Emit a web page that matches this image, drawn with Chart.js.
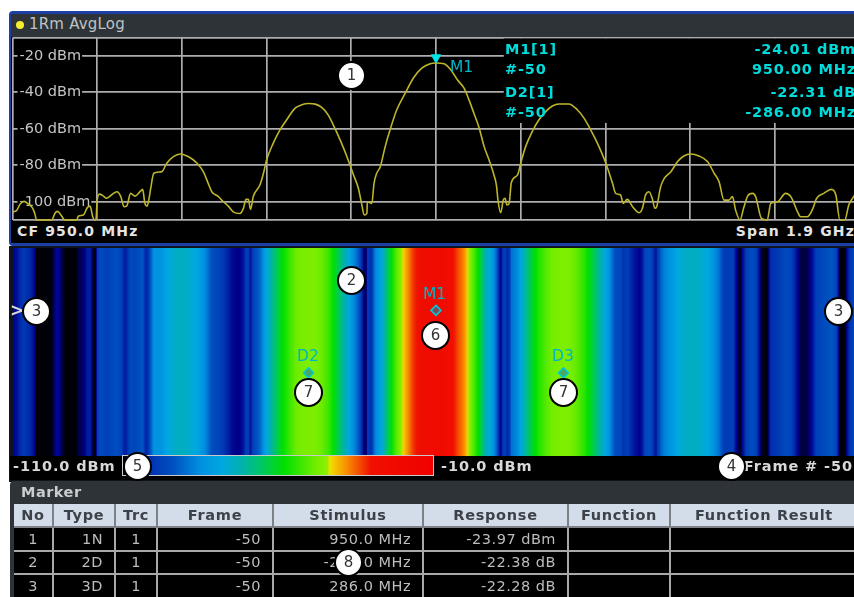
<!DOCTYPE html>
<html>
<head>
<meta charset="utf-8">
<script src="https://cdn.jsdelivr.net/npm/chart.js@4"></script>
<style>
html,body{margin:0;padding:0;background:#fff;width:854px;height:597px;overflow:hidden;}
#stage{position:absolute;left:0;top:0;width:854px;height:597px;overflow:hidden;background:#fff;
  font-family:"DejaVu Sans",sans-serif;filter:blur(0.45px);}
.box{position:absolute;}
.txt{position:absolute;white-space:nowrap;line-height:1;}
canvas{position:absolute;display:block;}
.num{position:absolute;width:25px;height:25px;border-radius:50%;background:#fff;border:2px solid #000;
  color:#333;font-size:15px;line-height:25px;text-align:center;}
.mk{color:#00dcdc;font-size:14.5px;font-weight:bold;letter-spacing:.8px;}
.wl{color:#00b4c8;font-size:15.5px;}
.low{font-size:14.5px;font-weight:bold;color:#d8d8d8;letter-spacing:.9px;}
#tbl{position:absolute;left:14px;top:504px;width:844px;border-collapse:collapse;table-layout:fixed;
  font-size:14.5px;color:#bdbdbd;letter-spacing:.5px;}
#tbl th{background:#d3dde9;color:#3c4248;font-weight:bold;height:22px;padding:0;border:1px solid #7d8084;border-width:0 2px 2px 0;letter-spacing:.7px;}
#tbl td{height:21.5px;padding:0 11px 0 0;text-align:right;background:#000;border:1px solid #a8a8a8;border-width:0 2px 2px 0;}
</style>
</head>
<body>
<div id="stage">
  <!-- top panel -->
  <div class="box" style="left:9px;top:11px;width:850px;height:235px;background:#1c3fa6;border-radius:4px 0 0 4px"></div>
  <div class="box" style="left:11px;top:14px;width:850px;height:23px;background:#2e3337"></div>
  <div class="box" style="left:11px;top:37px;width:850px;height:206px;background:#000"></div>
  <div class="box" style="left:16px;top:21px;width:8px;height:8px;border-radius:50%;background:#f5ee30"></div>
  <div class="txt" style="left:29px;top:17px;font-size:15px;color:#bfc3c6;letter-spacing:.2px">1Rm AvgLog</div>
  <canvas id="traceChart"></canvas>
  <div class="txt" style="left:17px;top:224px;font-size:14px;font-weight:bold;color:#e4e4e4;letter-spacing:1.15px">CF 950.0 MHz</div>
  <div class="txt" style="right:-1px;top:224px;font-size:14px;font-weight:bold;color:#e4e4e4;letter-spacing:1.15px">Span 1.9 GHz</div>
  <div class="txt mk" style="left:505px;top:42px">M1[1]</div>
  <div class="txt mk" style="left:505px;top:62px">#-50</div>
  <div class="txt mk" style="left:505px;top:85px">D2[1]</div>
  <div class="txt mk" style="left:505px;top:105px">#-50</div>
  <div class="txt mk" style="right:-2px;top:42px">-24.01 dBm</div>
  <div class="txt mk" style="right:-2px;top:62px">950.00 MHz</div>
  <div class="txt mk" style="right:-2px;top:85px">-22.31 dB</div>
  <div class="txt mk" style="right:-2px;top:105px">-286.00 MHz</div>
  <div class="txt wl" style="left:450px;top:60px">M1</div>

  <!-- spectrogram panel -->
  <div class="box" style="left:9px;top:246px;width:850px;height:236px;background:#10131a"></div>
  <canvas id="waterfallChart"></canvas>
  <div class="txt wl" style="left:423px;top:287px">M1</div>
  <div class="txt wl" style="left:297px;top:349px">D2</div>
  <div class="txt wl" style="left:552px;top:349px">D3</div>
  <div class="box" style="left:10px;top:456px;width:850px;height:24px;background:#000"></div>
  <div class="txt low" style="left:13px;top:459px">-110.0 dBm</div>
  <div class="box" id="colorBar" style="left:122px;top:455px;width:310px;height:19px;border:1px solid #c9c9c9"></div>
  <div class="txt low" style="left:441px;top:459px">-10.0 dBm</div>
  <div class="txt low" style="right:1px;top:459px">Frame # -50</div>
  <div class="txt" style="left:10px;top:302px;font-size:17px;font-weight:bold;color:#d8d8d8">&gt;</div>

  <!-- marker table panel -->
  <div class="box" style="left:10px;top:481px;width:850px;height:116px;background:#2e3337;border-radius:4px 0 0 0"></div>
  <div class="txt" style="left:21px;top:485px;font-size:14.5px;font-weight:bold;color:#c9cdd0;letter-spacing:.5px">Marker</div>
  <table id="tbl"><colgroup id="cols"></colgroup><thead><tr id="hdr"></tr></thead><tbody id="rows"></tbody></table>

  <div id="nums"></div>
</div>

<script>
// spectrum trace, frequency in MHz and level in dBm
var traceFreq = [0,9,17,26,36,44,50,54,88,95,101,107,118,144,148,159,168,174,180,184,187,190,195,204,211,222,234,243,250,256,265,275,286,292,297,302,307,310,317,335,346,361,376,395,413,428,439,447,462,473,484,495,510,518,524,529,534,540,555,563,570,585,600,615,634,649,664,679,693,708,723,738,753,765,776,783,789,795,796,806,811,817,825,836,847,862,881,899,918,937,950,968,983,998,1013,1024,1035,1047,1058,1069,1080,1086,1089,1095,1101,1105,1109,1114,1119,1133,1140,1151,1166,1181,1196,1211,1226,1248,1267,1282,1297,1312,1331,1346,1353,1364,1370,1379,1391,1406,1413,1420,1428,1435,1441,1445,1454,1462,1477,1492,1506,1521,1540,1559,1574,1585,1596,1607,1615,1622,1632,1640,1649,1660,1667,1680,1693,1701,1716,1734,1746,1761,1768,1783,1794,1804,1820,1837,1847,1856,1867,1876,1887,1900];
var traceLevel = [-105.6,-104.9,-101.3,-99.8,-101.3,-103.1,-106.4,-110,-110,-106.4,-105.3,-106.7,-110,-110,-107.8,-107.3,-103.1,-102.4,-108.2,-110,-110,-99.1,-95.8,-96.9,-98.1,-96.3,-94.5,-97.2,-102.7,-102.4,-95.4,-96.9,-94.5,-93.2,-100.9,-102.4,-97.2,-92.7,-84.4,-83.5,-78.9,-75.3,-73.8,-75.3,-78.6,-83.5,-89.9,-94.5,-97.2,-100,-102.4,-105.5,-106.4,-103.6,-98.7,-98.7,-104.2,-97.2,-90.8,-84.4,-77.1,-67.9,-60.6,-55.1,-48.7,-46.9,-46.2,-46.5,-48.2,-52.4,-59.7,-67.9,-77.1,-85.3,-92.7,-100.9,-107.3,-106.4,-100,-100.9,-89.9,-84.4,-80.8,-69.8,-60.6,-49.6,-40.5,-32.3,-26.8,-24.4,-24.01,-24.4,-27.7,-33.2,-37.8,-44.2,-51.5,-59.7,-69.8,-77.1,-85.3,-91.7,-99.1,-106,-99.1,-98.1,-101.8,-100.9,-89.5,-85.3,-78.9,-69.8,-61.5,-55.1,-50.6,-47.5,-46.4,-46.4,-49.6,-54.2,-60.6,-67.9,-78.9,-89.9,-95.4,-96.3,-100.9,-98.7,-102.7,-106,-103.6,-96.3,-94.5,-98.1,-103.6,-102.7,-91.7,-87.2,-83.5,-78,-74.9,-73.8,-74.9,-78,-84.4,-89,-99.1,-99.1,-97.2,-104.5,-110,-103.6,-96.9,-95.4,-97.2,-109.1,-110,-100.9,-100,-95.4,-97.2,-105.5,-108.2,-108.2,-104.5,-98.1,-95.4,-93.2,-96.3,-110,-110,-101.8,-97.2,-92];

// axes
var freqTicks = [0,190,380,570,760,950,1140,1330,1520,1710,1900];
var levelTicks = [-110,-100,-80,-60,-40,-20,-10];
var levelLabels = ['','-100 dBm','-80 dBm','-60 dBm','-40 dBm','-20 dBm',''];

// markers
var m1Freq = [950];
var m1Tip = [-21];
var wfMarkerFreq = [950,664,1236];
var wfMarkerFrame = [-30,-60,-60];

// colour scale of the spectrogram (dBm -> colour)
var scaleLevels = [-110,-106,-100,-94,-85,-78,-72,-65,-58,-48,-44,-43.4,-38,-30,-10];
var scaleColors = ['#000008','#00008c','#0038b4','#0050c0','#0090e0','#00a8e0','#00b0b0','#00c860','#00e000','#70ec00','#90f000','#f0e000','#f89000','#f01000','#f00000'];

// table
var tableHead = ['No','Type','Trc','Frame','Stimulus','Response','Function','Function Result'];
var tableWidths = [39,62,42,116,150,145,102,188];
var tableRows = [
  ['1','1N','1','-50','950.0 MHz','-23.97 dBm','',''],
  ['2','2D','1','-50','-286.0 MHz','-22.38 dB','',''],
  ['3','3D','1','-50','286.0 MHz','-22.28 dB','','']
];

// call-out numbers: label, centre x, centre y
var callNo = ['1','2','3','3','4','5','6','7','7','8'];
var callX = [351,351,36,838,731,137,435,308,563,348];
var callY = [75,280,311,311,466,466,335,392,392,562];

function hexRgb(h){
    return [parseInt(h.substr(1,2),16),parseInt(h.substr(3,2),16),parseInt(h.substr(5,2),16)];
}

function LevelColour(v)
{
    if (v <= scaleLevels[0]) return scaleColors[0];
    for (var i = 1; i < scaleLevels.length; i++) {
        if (v <= scaleLevels[i]) {
            var t = (v - scaleLevels[i-1]) / (scaleLevels[i] - scaleLevels[i-1]);
            var a = hexRgb(scaleColors[i-1]), b = hexRgb(scaleColors[i]);
            return 'rgb(' + Math.round(a[0]+(b[0]-a[0])*t) + ',' + Math.round(a[1]+(b[1]-a[1])*t) + ',' + Math.round(a[2]+(b[2]-a[2])*t) + ')';
        }
    }
    return scaleColors[scaleColors.length-1];
}

// colour bar under the spectrogram
var barStops = scaleLevels.map(function(l,i){ return scaleColors[i] + ' ' + (l+110) + '%'; });
document.getElementById('colorBar').style.background = 'linear-gradient(to right,' + barStops.join(',') + ')';

// table build
var cols = '', hdr = '', body = '';
tableWidths.forEach(function(w){ cols += '<col style="width:' + w + 'px">'; });
tableHead.forEach(function(h){ hdr += '<th>' + h + '</th>'; });
tableRows.forEach(function(r){
    body += '<tr>';
    r.forEach(function(c,i){
        var st = i==0 || i==2 ? ' style="text-align:center;padding:0"' : '';
        body += '<td' + st + '>' + c + '</td>';
    });
    body += '</tr>';
});
document.getElementById('cols').innerHTML = cols;
document.getElementById('hdr').innerHTML = hdr;
document.getElementById('rows').innerHTML = body;

// call-outs
var numsHtml = '';
callNo.forEach(function(n,i){
    numsHtml += '<div class="num" style="left:' + (callX[i]-14) + 'px;top:' + (callY[i]-14) + 'px">' + n + '</div>';
});
document.getElementById('nums').innerHTML = numsHtml;

Chart.defaults.font.family = '"DejaVu Sans", sans-serif';

var traceXY = traceFreq.map(function(f,i){ return {x:f, y:traceLevel[i]}; });

// the marker readout sits on a black block that hides the grid behind it
var readoutFreq = 1102, readoutLevel = -56.8;
var readoutCover = {
    id:'readoutCover',
    beforeDatasetsDraw:function(chart){
        var c = chart.ctx, x = chart.scales.x, y = chart.scales.y;
        var l = x.getPixelForValue(readoutFreq), b = y.getPixelForValue(readoutLevel);
        c.save();
        c.fillStyle = '#000';
        c.fillRect(l, chart.chartArea.top + 1, chart.width - l, b - chart.chartArea.top - 1);
        c.restore();
    }
};

// axes sit inside the plot, they must not take any room from it
function NoRoom(s)
{
    s.paddingTop = 0; s.paddingBottom = 0; s.paddingLeft = 0; s.paddingRight = 0;
    if (s.axis == 'x') s.height = 0; else s.width = 0;
}

var traceCanvas = document.getElementById('traceChart');
traceCanvas.style.left = '10px'; traceCanvas.style.top = '35px';
traceCanvas.style.width = '852px'; traceCanvas.style.height = '188px';
traceCanvas.width = 852; traceCanvas.height = 188;

new Chart(traceCanvas, {
    type:'line',
    data:{datasets:[
        {data:traceXY, borderColor:'#bdb52a', borderWidth:1.6, pointRadius:0, cubicInterpolationMode:'monotone', clip:4, order:2},
        {type:'scatter', data:[{x:m1Freq[0], y:m1Tip[0]}], pointStyle:'triangle', rotation:180, radius:5.5,
         backgroundColor:'#00e4e4', borderColor:'#00e4e4', order:1}
    ]},
    options:{
        responsive:false, animation:false, maintainAspectRatio:false,
        layout:{autoPadding:false, padding:{left:2.5,top:2.5,right:2.5,bottom:3}},
        plugins:{legend:{display:false}, tooltip:{enabled:false}},
        scales:{
            x:{type:'linear', min:0, max:1900, afterFit:NoRoom,
               afterBuildTicks:function(s){ s.ticks = freqTicks.map(function(v){ return {value:v}; }); },
               ticks:{display:false},
               grid:{color:'#adadad', lineWidth:1.7, drawTicks:false},
               border:{display:false}},
            y:{type:'linear', min:-110, max:-10, afterFit:NoRoom,
               afterBuildTicks:function(s){ s.ticks = levelTicks.map(function(v){ return {value:v}; }); },
               ticks:{mirror:true, padding:7, color:'#c4c4c4', font:{size:14.5}, autoSkip:false,
                      callback:function(v){ return levelLabels[levelTicks.indexOf(v)]; },
                      showLabelBackdrop:function(c){ return c.tick.value > -110 && c.tick.value < -10; },
                      backdropColor:'#000', backdropPadding:{left:2,right:1,top:2,bottom:2}},
               grid:{color:'#adadad', lineWidth:1.7, drawTicks:false},
               border:{display:false}}
        }
    },
    plugins:[readoutCover]
});

// spectrogram: every frame holds the same sweep, so the colour across x comes from the trace
var frameTop = 0, frameBottom = -100;
function WaterfallFill(ctx)
{
    var chart = ctx.chart;
    if (!chart.chartArea) return '#000';
    var xs = chart.scales.x;
    var g = chart.ctx.createLinearGradient(xs.getPixelForValue(0), 0, xs.getPixelForValue(1900), 0);
    for (var i = 0; i < traceFreq.length - 1; i++) {
        for (var s = 0; s < 4; s++) {
            var f = traceFreq[i] + (traceFreq[i+1]-traceFreq[i]) * s/4;
            var l = traceLevel[i] + (traceLevel[i+1]-traceLevel[i]) * s/4;
            g.addColorStop(f/1900, LevelColour(l));
        }
    }
    g.addColorStop(1, LevelColour(traceLevel[traceLevel.length-1]));
    return g;
}

var wfCanvas = document.getElementById('waterfallChart');
wfCanvas.style.left = '10px'; wfCanvas.style.top = '248px';
wfCanvas.style.width = '852px'; wfCanvas.style.height = '208px';
wfCanvas.width = 852; wfCanvas.height = 208;

new Chart(wfCanvas, {
    type:'line',
    data:{datasets:[
        {data:traceFreq.map(function(f){ return {x:f, y:frameTop}; }), fill:'start',
         backgroundColor:WaterfallFill, borderWidth:0, pointRadius:0, tension:0, order:2},
        {type:'scatter', data:wfMarkerFreq.map(function(f,i){ return {x:f, y:wfMarkerFrame[i]}; }),
         pointStyle:'rectRot', radius:5, borderWidth:1.6, borderColor:'#00c8d8', backgroundColor:'rgba(40,120,150,.6)', order:1}
    ]},
    options:{
        responsive:false, animation:false, maintainAspectRatio:false,
        layout:{autoPadding:false, padding:{left:2.5,top:0,right:2.5,bottom:0}},
        plugins:{legend:{display:false}, tooltip:{enabled:false}},
        scales:{
            x:{type:'linear', min:0, max:1900, display:false},
            y:{type:'linear', min:frameBottom, max:frameTop, display:false}
        }
    }
});
</script>
</body>
</html>
